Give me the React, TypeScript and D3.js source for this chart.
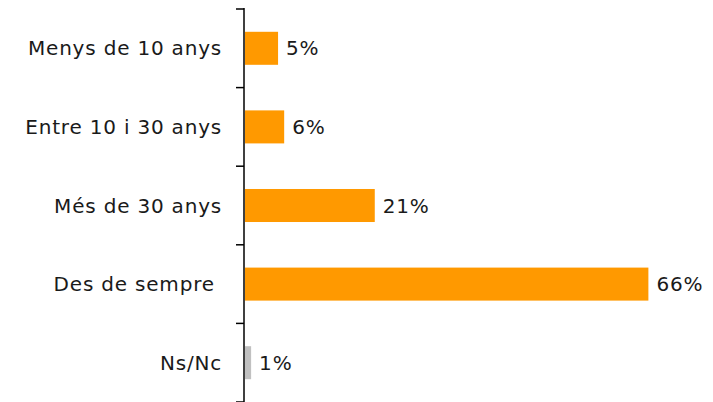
import React from "react";
import * as d3 from "d3";

const categories = ["Menys de 10 anys", "Entre 10 i 30 anys", "Més de 30 anys", "Des de sempre ", "Ns/Nc"];
const values = [5.4, 6.4, 21.2, 65.9, 1.0];
const colors = ["#FF9900", "#FF9900", "#FF9900", "#FF9900", "#C0C0C0"];

const W = 713;
const H = 402;
const FONT = "'DejaVu Sans', sans-serif";

export default function App() {
  const x0 = 245;
  const x = d3.scaleLinear().domain([0, 66]).range([x0, x0 + 404]);
  const y = d3.scaleBand<string>().domain(categories).range([9, 402]).paddingInner(0.58).paddingOuter(0.29);
  const step = y.step();
  const tickYs = d3.range(categories.length + 1).map((i) => 9 + i * step);

  return (
    <svg width={W} height={H} style={{ position: "absolute", left: 0, top: 0, background: "#fff" }}>
      {categories.map((c, i) => (
        <g key={c}>
          <rect x={x(0)} y={y(c)} width={x(values[i]) - x(0)} height={y.bandwidth()} fill={colors[i]} />
          <text
            x={x(values[i]) + 8}
            y={(y(c) as number) + y.bandwidth() / 2}
            dominantBaseline="central"
            fontFamily={FONT}
            fontSize={20}
            letterSpacing={0.8}
            fill="#1a1a1a"
          >
            {Math.round(values[i])}%
          </text>
          <text
            x={222}
            y={(y(c) as number) + y.bandwidth() / 2}
            dominantBaseline="central"
            textAnchor="end"
            fontFamily={FONT}
            fontSize={20}
            letterSpacing={0.8}
            fill="#1a1a1a"
            style={{ whiteSpace: "pre" }}
          >
            {c}
          </text>
        </g>
      ))}
      <line x1={244} x2={244} y1={8} y2={402} stroke="#000" strokeWidth={1.5} />
      {tickYs.map((t, i) => (
        <line key={i} x1={236} x2={244} y1={t} y2={t} stroke="#000" strokeWidth={1.5} />
      ))}
    </svg>
  );
}
